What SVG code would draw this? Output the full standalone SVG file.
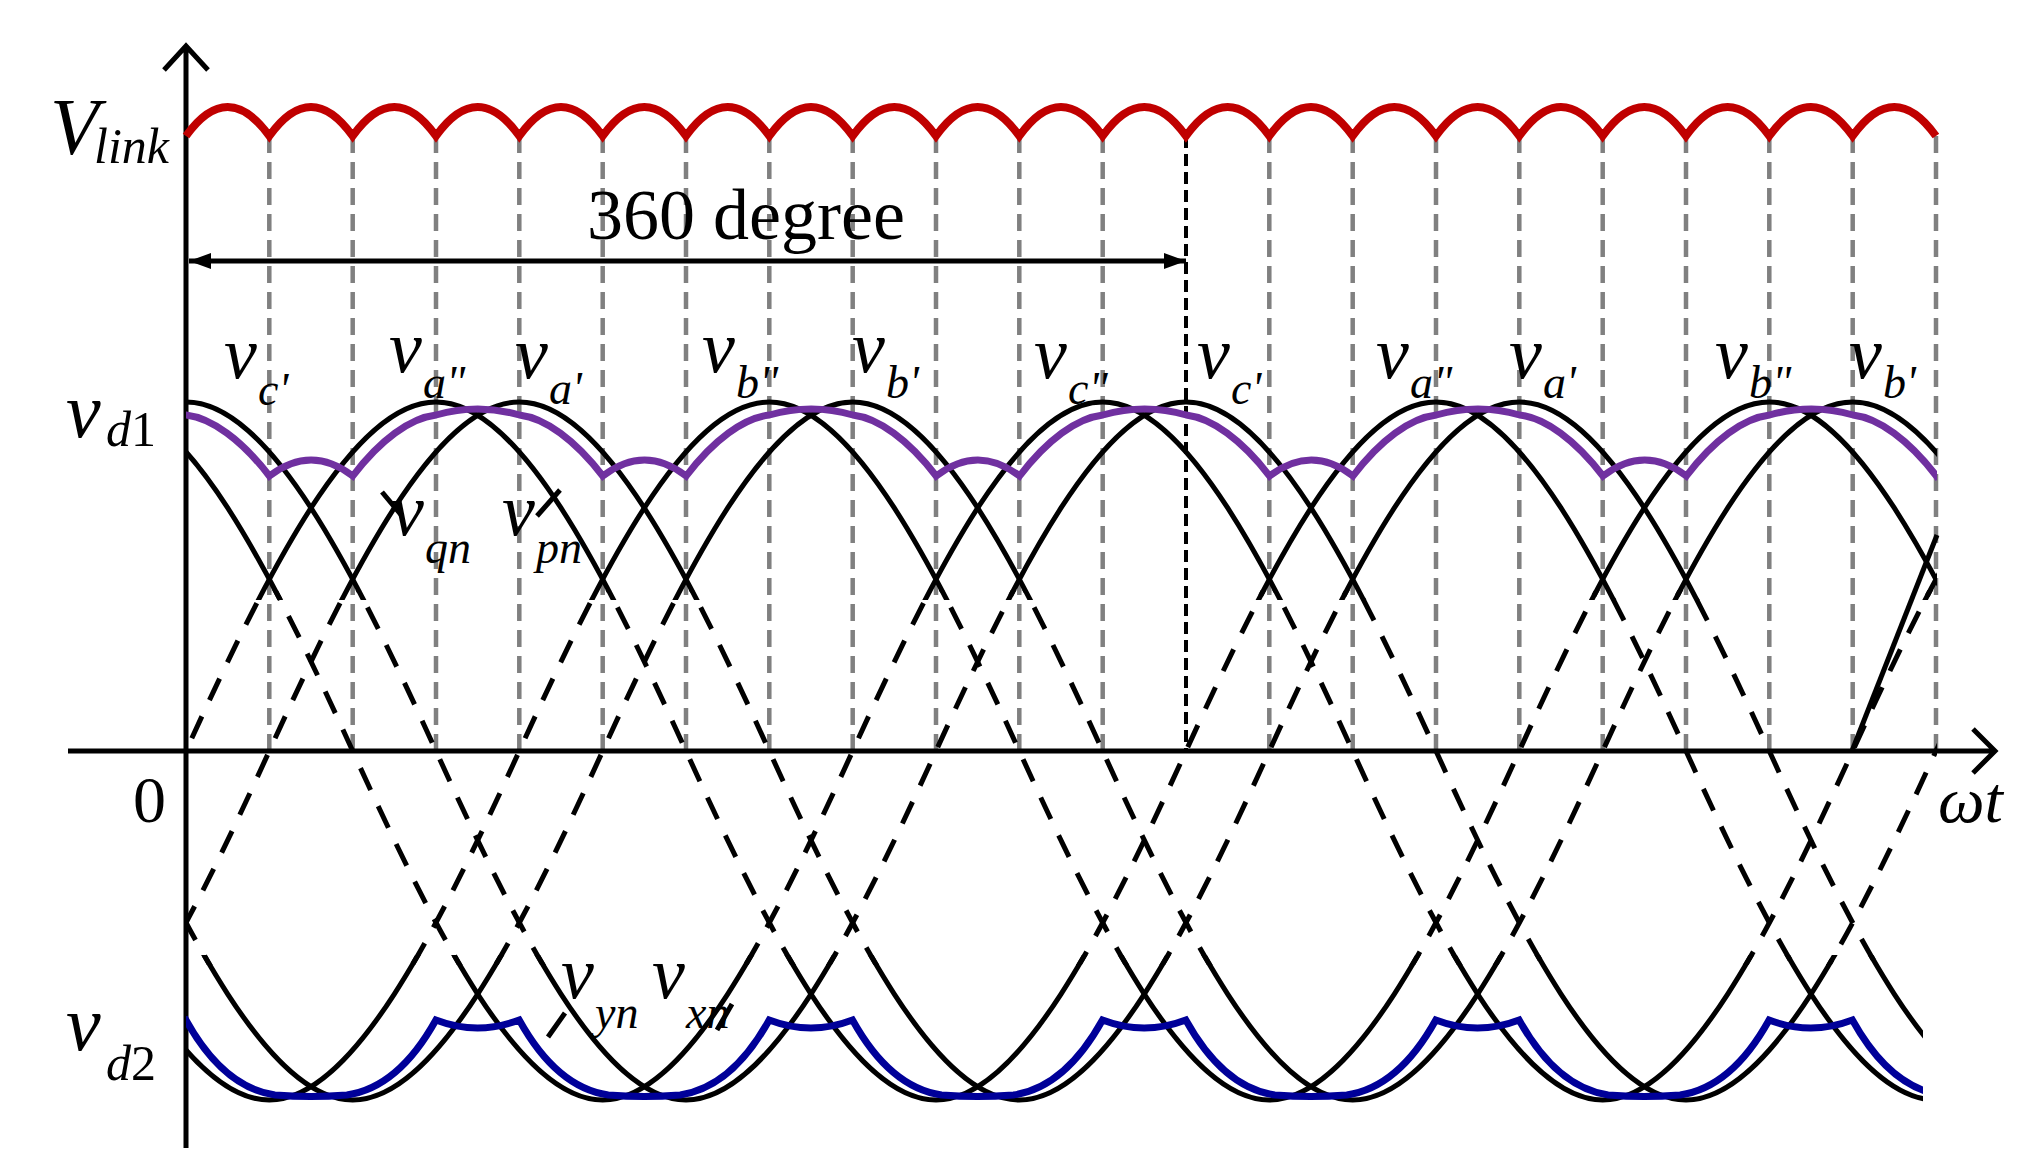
<svg xmlns="http://www.w3.org/2000/svg" xmlns:xlink="http://www.w3.org/1999/xlink" width="2021" height="1161" viewBox="0 0 2021 1161">
<style>
.t{font-family:"Liberation Serif",serif;fill:#000}
.i{font-style:italic}
.grid{stroke:#808080;stroke-width:4.5;stroke-dasharray:17 9;fill:none}
.sine{fill:none;stroke:#000;stroke-width:5}
.dash{stroke-dasharray:24 18}
.ax{stroke:#000;stroke-width:5;fill:none}
</style>
<defs>
<path id="W" d="M-1000 -349 c83.33 0 166.67 166.25 250 349 c83.33 182.75 166.67 349 250 349 c83.33 0 166.67 -166.25 250 -349 c83.33 -182.75 166.67 -349 250 -349 c83.33 0 166.67 166.25 250 349 c83.33 182.75 166.67 349 250 349 c83.33 0 166.67 -166.25 250 -349 c83.33 -182.75 166.67 -349 250 -349 c83.33 0 166.67 166.25 250 349 c83.33 182.75 166.67 349 250 349 c83.33 0 166.67 -166.25 250 -349 c83.33 -182.75 166.67 -349 250 -349"/>
<g id="six">
<use xlink:href="#W" transform="translate(186,751)"/>
<use xlink:href="#W" transform="translate(436,751)"/>
<use xlink:href="#W" transform="translate(519.3,751)"/>
<use xlink:href="#W" transform="translate(769.3,751)"/>
<use xlink:href="#W" transform="translate(852.7,751)"/>
<use xlink:href="#W" transform="translate(1102.7,751)"/>
</g>
<clipPath id="cAll"><rect x="186" y="0" width="1751" height="1161"/></clipPath>
<clipPath id="cB2"><rect x="186" y="0" width="1737" height="1161"/></clipPath>
<clipPath id="cTop"><rect x="186" y="0" width="1751" height="600"/></clipPath>
<clipPath id="cBot"><rect x="186" y="955" width="1737" height="206"/></clipPath>
<clipPath id="cMid"><rect x="186" y="590" width="1751" height="375"/></clipPath>
<marker id="ah" viewBox="0 0 22 16" refX="22" refY="8" markerWidth="22" markerHeight="16" markerUnits="userSpaceOnUse" orient="auto-start-reverse"><path d="M0 0 L22 8 L0 16 Z" fill="#000"/></marker>
</defs>

<g id="gridlines">
<path class="grid" d="M269.3 136V751M352.7 136V751M436 136V751M519.3 136V751M602.7 136V751M686 136V751M769.3 136V751M852.7 136V751M936 136V751M1019.3 136V751M1102.7 136V751M1269.3 136V751M1352.7 136V751M1436 136V751M1519.3 136V751M1602.7 136V751M1686 136V751M1769.3 136V751M1852.7 136V751M1936 136V751"/>
<path d="M1186 136V751" stroke="#000" stroke-width="4" stroke-dasharray="12 6"/>
</g>

<g id="axes">
<path class="ax" d="M186 1148V46M164 70L186 46L208 70"/>
<path class="ax" d="M68 751H1995M1973 729L1995 751L1973 773"/>
</g>

<g id="vlink">
<path fill="none" stroke="#c00000" stroke-width="8" d="M186 136q41.67 -58 83.33 0q41.67 -58 83.33 0q41.67 -58 83.33 0q41.67 -58 83.33 0q41.67 -58 83.33 0q41.67 -58 83.33 0q41.67 -58 83.33 0q41.67 -58 83.33 0q41.67 -58 83.33 0q41.67 -58 83.33 0q41.67 -58 83.33 0q41.67 -58 83.33 0q41.67 -58 83.33 0q41.67 -58 83.33 0q41.67 -58 83.33 0q41.67 -58 83.33 0q41.67 -58 83.33 0q41.67 -58 83.33 0q41.67 -58 83.33 0q41.67 -58 83.33 0q41.67 -58 83.33 0"/>
</g>

<g id="span360">
<line x1="189" y1="261" x2="1186" y2="261" stroke="#000" stroke-width="5" marker-start="url(#ah)" marker-end="url(#ah)"/>
<text class="t" x="746" y="239" font-size="72" text-anchor="middle">360 degree</text>
</g>

<g id="connectors">
<g clip-path="url(#cMid)"><use xlink:href="#six" class="sine dash"/></g>
<g clip-path="url(#cTop)"><use xlink:href="#six" class="sine"/></g>
<g clip-path="url(#cBot)"><use xlink:href="#six" class="sine"/></g>
<path class="sine" d="M1852 751L1937 535"/>
<path d="M382 492L402 516M537 516L560 490M548 1037L565 1013M717 1030L732 1004" stroke="#000" stroke-width="5"/>
</g>

<g id="vd1curve" clip-path="url(#cAll)">
<path fill="none" stroke="#7030a0" stroke-width="7" d="M-64 476q41.7 -32 83.4 0c27.3 -36 57.3 -58 83.3 -61q41.7 -12 83.3 0c25.7 3 55.7 25 83.4 61q41.7 -32 83.4 0c27.3 -36 57.3 -58 83.3 -61q41.7 -12 83.3 0c25.7 3 55.7 25 83.4 61q41.7 -32 83.4 0c27.3 -36 57.3 -58 83.3 -61q41.7 -12 83.3 0c25.7 3 55.7 25 83.4 61q41.7 -32 83.4 0c27.3 -36 57.3 -58 83.3 -61q41.7 -12 83.3 0c25.7 3 55.7 25 83.4 61q41.7 -32 83.4 0c27.3 -36 57.3 -58 83.3 -61q41.7 -12 83.3 0c25.7 3 55.7 25 83.4 61q41.7 -32 83.4 0c27.3 -36 57.3 -58 83.3 -61q41.7 -12 83.3 0c25.7 3 55.7 25 83.4 61q41.7 -32 83.4 0c27.3 -36 57.3 -58 83.3 -61q41.7 -12 83.3 0c25.7 3 55.7 25 83.4 61"/>
</g>
<g id="vd2curve" clip-path="url(#cB2)">
<path fill="none" stroke="#000099" stroke-width="7" d="M-564 1020q41.7 16 83.3 0c25 45 55 70 89 75c24 2 48 2 72 0c34 -5 64 -30 89 -75q41.7 16 83.3 0c25 45 55 70 89 75c24 2 48 2 72 0c34 -5 64 -30 89 -75q41.7 16 83.3 0c25 45 55 70 89 75c24 2 48 2 72 0c34 -5 64 -30 89 -75q41.7 16 83.3 0c25 45 55 70 89 75c24 2 48 2 72 0c34 -5 64 -30 89 -75q41.7 16 83.3 0c25 45 55 70 89 75c24 2 48 2 72 0c34 -5 64 -30 89 -75q41.7 16 83.3 0c25 45 55 70 89 75c24 2 48 2 72 0c34 -5 64 -30 89 -75q41.7 16 83.3 0c25 45 55 70 89 75c24 2 48 2 72 0c34 -5 64 -30 89 -75q41.7 16 83.3 0c25 45 55 70 89 75c24 2 48 2 72 0c34 -5 64 -30 89 -75"/>
</g>

<g id="labels">
<text class="t i" x="50" y="154" font-size="80">V<tspan x="94" y="163" font-size="50">link</tspan></text>
<text class="t i" x="66" y="437" font-size="78">v<tspan x="106" y="446" font-size="50">d</tspan><tspan font-style="normal" font-size="50">1</tspan></text>
<text class="t i" x="66" y="1050" font-size="78">v<tspan x="106" y="1080" font-size="50">d</tspan><tspan font-style="normal" font-size="50">2</tspan></text>
<text class="t" x="133" y="822" font-size="66">0</text>
<text class="t i" x="1938" y="822" font-size="66">ωt</text>
<g font-size="74" class="t i">
<text x="224" y="378">v<tspan x="258" y="405" font-size="46">c'</tspan></text>
<text x="389" y="372">v<tspan x="423" y="398" font-size="46">a"</tspan></text>
<text x="515" y="378">v<tspan x="549" y="404" font-size="46">a'</tspan></text>
<text x="702" y="372">v<tspan x="736" y="398" font-size="46">b"</tspan></text>
<text x="852" y="372">v<tspan x="886" y="398" font-size="46">b'</tspan></text>
<text x="1034" y="378">v<tspan x="1068" y="404" font-size="46">c"</tspan></text>
<text x="1197" y="378">v<tspan x="1231" y="404" font-size="46">c'</tspan></text>
<text x="1376" y="378">v<tspan x="1410" y="398" font-size="46">a"</tspan></text>
<text x="1509" y="378">v<tspan x="1543" y="398" font-size="46">a'</tspan></text>
<text x="1715" y="378">v<tspan x="1749" y="398" font-size="46">b"</tspan></text>
<text x="1849" y="378">v<tspan x="1883" y="398" font-size="46">b'</tspan></text>
<text x="391" y="535">v<tspan x="425" y="563" font-size="46">qn</tspan></text>
<text x="502" y="535">v<tspan x="536" y="563" font-size="46">pn</tspan></text>
<text x="561" y="998">v<tspan x="595" y="1028" font-size="46">yn</tspan></text>
<text x="652" y="998">v<tspan x="686" y="1028" font-size="46">xn</tspan></text>
</g>
</g>
</svg>
